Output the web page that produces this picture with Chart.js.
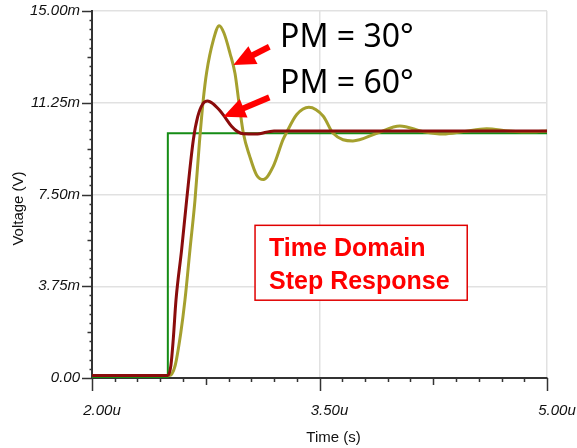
<!DOCTYPE html>
<html>
<head>
<meta charset="utf-8">
<script src="https://cdn.jsdelivr.net/npm/chart.js@4.4.1/dist/chart.umd.min.js"></script>
<style>
  html, body { margin: 0; padding: 0; background: #fff; }
  #wrap { width: 577px; height: 448px; }
</style>
</head>
<body>
<div id="wrap"><canvas id="stepChart" width="577" height="448"></canvas></div>
<script>
// axis ticks (time in us, voltage in mV)
const xMajorTicks = [2.0, 3.5, 5.0];
const xTickLabels = ['2.00u', '3.50u', '5.00u'];
const yMajorTicks = [0, 3.75, 7.5, 11.25, 15];
const yTickLabels = ['0.00', '3.75m', '7.50m', '11.25m', '15.00m'];

// input step
const stepTime = [2.0, 2.5, 2.5, 5.0];
const stepVolt = [0, 0, 10.0, 10.0];

// PM = 60 deg response
const pm60Time = [2.0, 2.5, 2.52, 2.536, 2.554, 2.591, 2.624, 2.668, 2.697, 2.73, 2.762, 2.80, 2.84, 2.872, 2.92, 2.96, 3.0, 3.08, 3.2, 5.0];
const pm60Volt = [0.1, 0.1, 0.5, 1.6, 3.2, 5.25, 7.27, 9.73, 10.68, 11.2, 11.32, 11.2, 10.95, 10.7, 10.29, 10.07, 9.98, 9.97, 10.1, 10.1];

// PM = 30 deg response
const pm30Time = [2.0, 2.51, 2.547, 2.585, 2.613, 2.646, 2.679, 2.708, 2.734, 2.756, 2.80, 2.839, 2.87, 2.91, 2.943, 2.97, 2.998, 3.04, 3.085, 3.13, 3.195, 3.26, 3.28, 3.35, 3.43, 3.525, 3.59, 3.72, 3.877, 4.03, 4.184, 4.316, 4.448, 4.602, 4.75, 4.90, 5.0];
const pm30Volt = [0.1, 0.1, 0.48, 1.83, 3.19, 5.25, 7.27, 9.6, 11.4, 12.5, 13.81, 14.4, 14.1, 13.27, 12.45, 11.2, 10.0, 9.06, 8.3, 8.11, 8.65, 9.75, 10.0, 10.77, 11.07, 10.7, 10.0, 9.69, 10.0, 10.3, 10.07, 9.97, 10.07, 10.19, 10.1, 10.06, 10.1];

// annotations, placed in data units
const pmLabels = ['PM = 30°', 'PM = 60°'];
const pmLabelPos = [[3.24, 13.54], [3.24, 11.63]];
const arrowTails = [[3.169, 13.54], [3.169, 11.47]];
const arrowTips = [[2.932, 12.79], [2.866, 10.68]];
const boxLines = ['Time Domain', 'Step Response'];
const boxCorners = [[3.075, 6.24], [4.474, 3.18]];

const pts = (xs, ys) => xs.map((x, i) => ({ x: x, y: ys[i] }));

function withMinors(majors) {
    const out = [];
    for (let i = 0; i < majors.length - 1; i++) {
        for (let k = 0; k < 10; k++) {
            out.push({ value: majors[i] + (majors[i + 1] - majors[i]) * k / 10 });
        }
    }
    out.push({ value: majors[majors.length - 1] });
    return out;
}

const gridColor = ctx => (ctx.index % 10 === 0 ? '#e1e1e1' : 'rgba(0,0,0,0)');
const tickFont = { family: '"Liberation Sans", Arial, sans-serif', size: 15, style: 'italic' };

const decorations = {
    id: 'decorations',
    afterDatasetsDraw(chart) {
        const { ctx, scales: { x, y } } = chart;
        ctx.save();

        // text box
        const bx1 = x.getPixelForValue(boxCorners[0][0]), by1 = y.getPixelForValue(boxCorners[0][1]);
        const bx2 = x.getPixelForValue(boxCorners[1][0]), by2 = y.getPixelForValue(boxCorners[1][1]);
        ctx.fillStyle = '#fff';
        ctx.fillRect(bx1, by1, bx2 - bx1, by2 - by1);
        ctx.strokeStyle = '#e00000';
        ctx.lineWidth = 1.5;
        ctx.strokeRect(bx1, by1, bx2 - bx1, by2 - by1);
        ctx.fillStyle = '#ff0000';
        ctx.font = 'bold 25px "Liberation Sans", Arial, sans-serif';
        ctx.textAlign = 'left';
        ctx.textBaseline = 'alphabetic';
        ctx.fillText(boxLines[0], bx1 + 14, by1 + 31);
        ctx.fillText(boxLines[1], bx1 + 14, by1 + 64);

        // PM labels
        ctx.fillStyle = '#000';
        ctx.font = '32px "Noto Sans", "Open Sans", sans-serif';
        pmLabels.forEach((t, i) => {
            ctx.fillText(t, x.getPixelForValue(pmLabelPos[i][0]), y.getPixelForValue(pmLabelPos[i][1]));
        });

        // arrows
        ctx.fillStyle = '#ff0000';
        ctx.strokeStyle = '#ff0000';
        arrowTails.forEach((tail, i) => {
            const x0 = x.getPixelForValue(tail[0]), y0 = y.getPixelForValue(tail[1]);
            const x1 = x.getPixelForValue(arrowTips[i][0]), y1 = y.getPixelForValue(arrowTips[i][1]);
            const ang = Math.atan2(y1 - y0, x1 - x0);
            const headLen = 22, headHalf = 10;
            const hx = x1 - headLen * Math.cos(ang), hy = y1 - headLen * Math.sin(ang);
            ctx.lineWidth = 6;
            ctx.beginPath();
            ctx.moveTo(x0, y0);
            ctx.lineTo(hx + 2 * Math.cos(ang), hy + 2 * Math.sin(ang));
            ctx.stroke();
            ctx.beginPath();
            ctx.moveTo(x1, y1);
            ctx.lineTo(hx - headHalf * Math.sin(ang), hy + headHalf * Math.cos(ang));
            ctx.lineTo(hx + headHalf * Math.sin(ang), hy - headHalf * Math.cos(ang));
            ctx.closePath();
            ctx.fill();
        });
        ctx.restore();
    },
    afterDraw(chart) {
        const { ctx, chartArea: area, scales: { x, y } } = chart;
        ctx.save();
        ctx.strokeStyle = '#333';
        ctx.lineWidth = 1.5;
        // x ticks, down from the axis
        x.ticks.forEach((t, i) => {
            const len = i % 10 === 0 ? 13 : (i % 5 === 0 ? 7 : 4);
            const px = Math.round(x.getPixelForValue(t.value)) + 0.5;
            ctx.beginPath();
            ctx.moveTo(px, area.bottom);
            ctx.lineTo(px, area.bottom + len);
            ctx.stroke();
        });
        // y ticks, left of the axis
        y.ticks.forEach((t, i) => {
            const len = i % 10 === 0 ? 10 : (i % 5 === 0 ? 4.5 : 2.5);
            const py = Math.round(y.getPixelForValue(t.value)) + 0.5;
            ctx.beginPath();
            ctx.moveTo(area.left, py);
            ctx.lineTo(area.left - len, py);
            ctx.stroke();
        });

        // axis titles
        ctx.fillStyle = '#111';
        ctx.font = '15px "Liberation Sans", Arial, sans-serif';
        ctx.textAlign = 'center';
        ctx.textBaseline = 'middle';
        ctx.fillText('Time (s)', (area.left + area.right) / 2 + 14, 438);
        ctx.translate(19, (area.top + area.bottom) / 2 + 14);
        ctx.rotate(-Math.PI / 2);
        ctx.fillText('Voltage (V)', 0, 0);
        ctx.restore();
    }
};

new Chart(document.getElementById('stepChart'), {
    type: 'line',
    data: {
        datasets: [
            {
                label: 'PM = 60',
                data: pts(pm60Time, pm60Volt),
                borderColor: '#8a0c0c',
                borderWidth: 3,
                cubicInterpolationMode: 'monotone'
            },
            {
                label: 'PM = 30',
                data: pts(pm30Time, pm30Volt),
                borderColor: '#a5a02e',
                borderWidth: 3,
                cubicInterpolationMode: 'monotone'
            },
            {
                label: 'Step',
                data: pts(stepTime, stepVolt),
                borderColor: '#158c15',
                borderWidth: 2,
                tension: 0
            }
        ]
    },
    options: {
        responsive: false,
        animation: false,
        devicePixelRatio: 1,
        layout: { padding: { left: 0, top: 11, right: 30, bottom: 0 } },
        elements: { point: { radius: 0 } },
        plugins: { legend: { display: false }, tooltip: { enabled: false } },
        scales: {
            x: {
                type: 'linear',
                min: 2,
                max: 5,
                afterBuildTicks: scale => { scale.ticks = withMinors(xMajorTicks); },
                afterFit: scale => {
                    scale.height = 70;
                    scale.paddingLeft = 0;
                    scale.paddingRight = 0;
                },
                grid: { color: gridColor, lineWidth: 1.5, drawTicks: false },
                border: { color: '#333', width: 2 },
                ticks: {
                    autoSkip: false,
                    maxRotation: 0,
                    padding: 24,
                    labelOffset: 10,
                    color: '#111',
                    font: tickFont,
                    callback: (v, i) => (i % 10 === 0 ? xTickLabels[i / 10] : '')
                }
            },
            y: {
                type: 'linear',
                min: 0,
                max: 15,
                afterBuildTicks: scale => { scale.ticks = withMinors(yMajorTicks); },
                afterFit: scale => {
                    scale.width = 92;
                    scale.paddingTop = 0;
                    scale.paddingBottom = 0;
                },
                grid: { color: gridColor, lineWidth: 1.5, drawTicks: false },
                border: { color: '#333', width: 2 },
                ticks: {
                    autoSkip: false,
                    padding: 12,
                    color: '#111',
                    font: tickFont,
                    callback: (v, i) => (i % 10 === 0 ? yTickLabels[i / 10] : '')
                }
            }
        }
    },
    plugins: [decorations]
});
</script>
</body>
</html>
